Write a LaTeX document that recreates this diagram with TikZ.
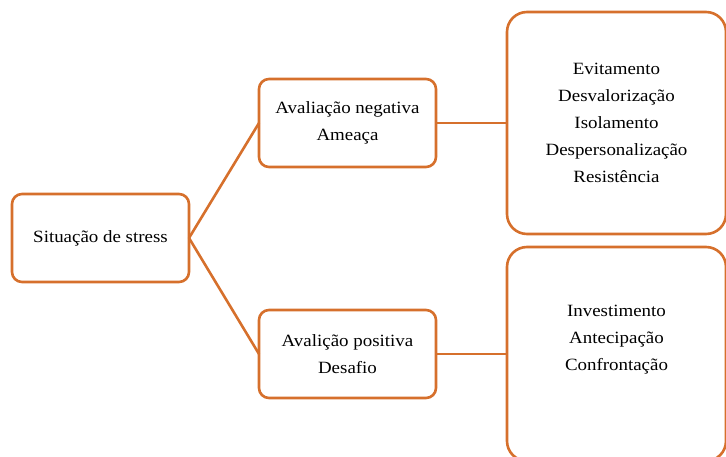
\documentclass[tikz,border=0pt]{standalone}
\usepackage{fontspec}
\setmainfont{Liberation Serif}[FakeStretch=1.1]
\begin{document}
\definecolor{boxorange}{RGB}{214,112,44}
\begin{tikzpicture}[x=1pt,y=-1pt,
  font=\fontsize{17.2}{27}\selectfont,
  box/.style={draw=boxorange, line width=2.6pt, fill=white, rounded corners=10pt,
    align=center, inner sep=0pt, outer sep=0pt},
  bigbox/.style={box, rounded corners=20pt},
  link/.style={draw=boxorange, line width=2.6pt}]
\useasboundingbox (0,0) rectangle (726,457);
\clip (0,0) rectangle (726,457);
% main stages
\node[box, minimum width=177pt, minimum height=88pt] (sit) at (100.5,238) {Situação de stress};
\node[box, minimum width=177pt, minimum height=88pt] (neg) at (347.5,123) {Avaliação negativa\\Ameaça};
\node[box, minimum width=177pt, minimum height=88pt] (pos) at (347.5,354) {Avalição positiva\\Desafio};
% outcome boxes
\node[bigbox, minimum width=219pt, minimum height=222pt] (rtop) at (616.5,123)
  {Evitamento\\Desvalorização\\Isolamento\\Despersonalização\\Resistência};
\node[bigbox, minimum width=219pt, minimum height=214pt] (rbot) at (616.5,354) {};
\node[align=center, inner sep=0pt] (rbtext) at (616.5,340) {Investimento\\Antecipação\\Confrontação};
% connectors
\draw[link] (sit.east) -- (neg.west);
\draw[link] (sit.east) -- (pos.west);
\draw[link] (neg.east) -- (rtop.west);
\draw[link] (pos.east) -- (rbot.west);
\end{tikzpicture}
\end{document}
